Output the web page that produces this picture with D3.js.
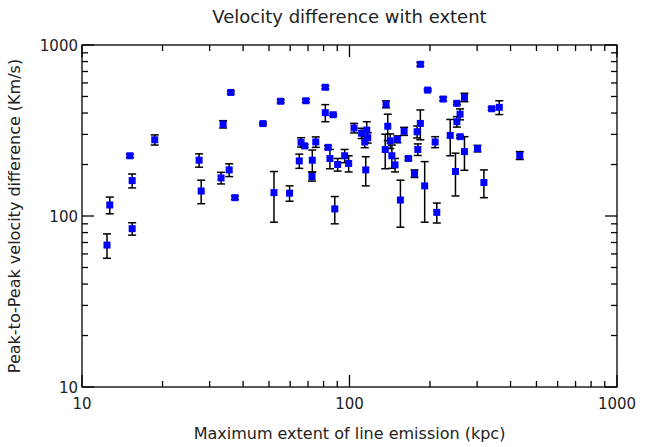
<!DOCTYPE html>
<html><head><meta charset="utf-8">
<script src="https://cdn.jsdelivr.net/npm/d3@7"></script>
<style>body{margin:0;background:#fff}text{font-family:"DejaVu Sans",sans-serif;fill:#222}</style>
</head><body><div class="chart-holder"></div>
<script>
// extent (kpc), velocity difference (km/s), error (km/s)
var extent = [12.4,12.7,15.1,15.4,15.4,18.7,27.4,27.9,33.7,33.1,35.5,36.0,37.3,47.5,52.2,55.3,59.7,64.9,65.9,68.0,68.7,72.6,72.4,74.8,81.2,81.2,86.9,83.2,84.5,88.1,90.3,95.9,99.3,104,111,116,117,114,115,137,139,136,142,144,148,151,155,160,166,175,179,180,184,184,191,196,209,212,224,238,249,252,252,259,259,269,269,301,318,340,363,433];
var velocity = [67.6,116,225,161,84.3,279,212,140,344,167,186,528,128,347,137,469,136,210,270,257,472,212,170,271,566,402,391,252,217,110,200,225,203,327,305,318,287,271,186,450,335,245,275,225,199,281,124,313,217,177,311,245,348,771,150,545,271,105,483,296,182,456,356,394,291,494,238,248,157,424,432,226];
var velErr = [11,13,5,15,7,19,19,22,17,13,16,10,3,5,45,10,14,20,17,5,10,31,10,19,12,46,6,6,28,20,17,20,22,21,21,38,20,20,36,21,59,56,27,35,18,13,38,17,5,9,25,19,69,20,58,8,20,14,12,71,51,8,25,29,5,28,53,11,29,8,40,12];
var xTicks = [10,100,1000];
var yTicks = [10,100,1000];

var w = 646, h = 447;
var m = {left:82, right:29, top:45, bottom:60};
var svg = d3.select(".chart-holder").append("svg").attr("width", w).attr("height", h);
var x = d3.scaleLog().domain([10,1000]).range([m.left, w - m.right]);
var y = d3.scaleLog().domain([10,1000]).range([h - m.bottom, m.top]);
var x0 = m.left, x1 = w - m.right, y0 = h - m.bottom, y1 = m.top;

// minor tick values
function minors(lo, hi) {
	var out = [];
	for (var d = lo; d < hi; d *= 10) for (var k = 2; k <= 9; k++) out.push(d * k);
	return out;
}
var g = svg.append("g").attr("stroke", "#000").attr("stroke-width", 1.3);
g.append("rect").attr("x", x0).attr("y", y1).attr("width", x1 - x0).attr("height", y0 - y1).attr("fill", "none");
xTicks.concat(minors(10, 1000)).forEach(function(v) {
	var len = xTicks.indexOf(v) >= 0 ? 12 : 6;
	g.append("line").attr("x1", x(v)).attr("x2", x(v)).attr("y1", y0).attr("y2", y0 - len);
	g.append("line").attr("x1", x(v)).attr("x2", x(v)).attr("y1", y1).attr("y2", y1 + len);
});
yTicks.concat(minors(10, 1000)).forEach(function(v) {
	var len = yTicks.indexOf(v) >= 0 ? 12 : 6;
	g.append("line").attr("y1", y(v)).attr("y2", y(v)).attr("x1", x0).attr("x2", x0 + len);
	g.append("line").attr("y1", y(v)).attr("y2", y(v)).attr("x1", x1).attr("x2", x1 - len);
});
svg.selectAll(".xt").data(xTicks).enter().append("text")
	.attr("x", d => x(d)).attr("y", y0 + 22).attr("text-anchor", "middle").attr("font-size", 15).text(d => d);
svg.selectAll(".yt").data(yTicks).enter().append("text")
	.attr("x", x0 - 4).attr("y", d => y(d) + 6).attr("text-anchor", "end").attr("font-size", 15).text(d => d);

svg.append("text").attr("x", (x0 + x1) / 2).attr("y", 23).attr("text-anchor", "middle").attr("font-size", 18).text("Velocity difference with extent");
svg.append("text").attr("x", (x0 + x1) / 2).attr("y", 439).attr("text-anchor", "middle").attr("font-size", 16).text("Maximum extent of line emission (kpc)");
svg.append("text").attr("transform", "translate(20," + ((y0 + y1) / 2) + ") rotate(-90)").attr("text-anchor", "middle").attr("font-size", 16).text("Peak-to-Peak velocity difference (Km/s)");

var data = extent.map(function(e, i) { return {x: e, y: velocity[i], err: velErr[i]}; });
var eb = svg.append("g").attr("stroke", "#000").attr("stroke-width", 1.5);
data.forEach(function(d) {
	var cx = x(d.x), top = y(d.y + d.err), bot = y(Math.max(d.y - d.err, 1));
	eb.append("line").attr("x1", cx).attr("x2", cx).attr("y1", top).attr("y2", bot);
	eb.append("line").attr("x1", cx - 4).attr("x2", cx + 4).attr("y1", top).attr("y2", top);
	eb.append("line").attr("x1", cx - 4).attr("x2", cx + 4).attr("y1", bot).attr("y2", bot);
});
svg.append("g").selectAll("rect").data(data).enter().append("rect")
	.attr("x", d => x(d.x) - 3.5).attr("y", d => y(d.y) - 3.5).attr("width", 7).attr("height", 7)
	.attr("fill", "#0000ff");
</script></body></html>
